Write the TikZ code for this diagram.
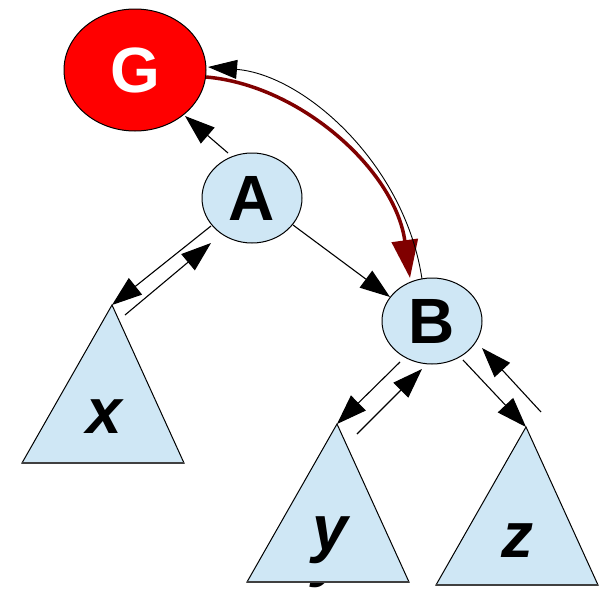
\documentclass[tikz,border=0pt]{standalone}
\usepackage{fontspec}
\setmainfont{Liberation Sans}
\usetikzlibrary{shapes.geometric,arrows.meta}
\definecolor{lb}{HTML}{CFE7F5}
\definecolor{dred}{HTML}{800000}
\begin{document}
\begin{tikzpicture}[x=1pt,y=-1pt,
  circ/.style={ellipse,draw=black,line width=1pt,fill=lb,inner sep=0pt,
    font=\fontsize{64}{64}\selectfont\bfseries},
  tri/.style={draw=black,line width=1pt,fill=lb,line join=miter},
  base/.style={draw=black!75,line width=2pt},
  lab/.style={font=\fontsize{64}{64}\selectfont\bfseries\itshape,inner sep=0pt,anchor=base},
  arr/.style={line width=1.1pt,-{Triangle[length=30pt,width=21pt]}},
  redarr/.style={draw=dred,line width=3.5pt,-{Triangle[length=38pt,width=26pt]}},
  backarr/.style={line width=0.9pt,-{Triangle[length=29pt,width=19pt]}},
]
\useasboundingbox (0,0) rectangle (602,589);

% nodes
\node[circ,fill=red,text=white,minimum width=142pt,minimum height=122pt] (G) at (135,70) {G};
\node[circ,minimum width=100pt,minimum height=90pt] (A) at (252,198) {A};
\node[circ,minimum width=100pt,minimum height=86pt] (B) at (432,321) {B};

% subtree x
\coordinate (xtop) at (112,305);
\coordinate (xl) at (22,463);
\coordinate (xr) at (184,463);
\draw[tri] (xtop) -- (xr) -- (xl) -- cycle;
\draw[base] (xl) -- (xr);
\node[lab] (x) at (104,433) {x};

% subtree y
\node[lab] (yshadow) at (330,574) {y};
\coordinate (ytop) at (337,424);
\coordinate (yl) at (247,582);
\coordinate (yr) at (409,582);
\draw[tri] (ytop) -- (yr) -- (yl) -- cycle;
\draw[base] (yl) -- (yr);
\node[lab] (y) at (330,550) {y};

% subtree z
\coordinate (ztop) at (526,427);
\coordinate (zl) at (436,585);
\coordinate (zr) at (598,585);
\draw[tri] (ztop) -- (zr) -- (zl) -- cycle;
\draw[base] (zl) -- (zr);
\node[lab] (z) at (517,557) {z};

% connector end points
\coordinate (AtoG) at (228,153);
\coordinate (GfromA) at (185,116);
\coordinate (AtoX) at (211,226);
\coordinate (XtoA) at (125,315);
\coordinate (AfromX) at (211,243);
\coordinate (AtoB) at (293,225);
\coordinate (BfromA) at (390,297);
\coordinate (GtoB) at (206,77);
\coordinate (BfromG) at (410,278);
\coordinate (BtoG) at (422,279);
\coordinate (GfromB) at (208,67);
\coordinate (BtoY) at (400,362);
\coordinate (YtoB) at (357,434);
\coordinate (BfromY) at (422,369);
\coordinate (BtoZ) at (463,360);
\coordinate (ZfromB) at (526,427);
\coordinate (ZtoB) at (541,412);
\coordinate (BfromZ) at (482,348);

% connectors
\draw[arr] (AtoG) -- (GfromA);
\draw[arr] (AtoX) -- (xtop);
\draw[arr] (XtoA) -- (AfromX);
\draw[arr] (AtoB) -- (BfromA);
\draw[redarr] (GtoB) .. controls (300,85) and (395,170) .. (BfromG);
\draw[backarr] (BtoG) .. controls (405,165) and (305,75) .. (GfromB);
\draw[arr] (BtoY) -- (ytop);
\draw[arr] (YtoB) -- (BfromY);
\draw[arr] (BtoZ) -- (ZfromB);
\draw[arr] (ZtoB) -- (BfromZ);
\end{tikzpicture}
\end{document}
